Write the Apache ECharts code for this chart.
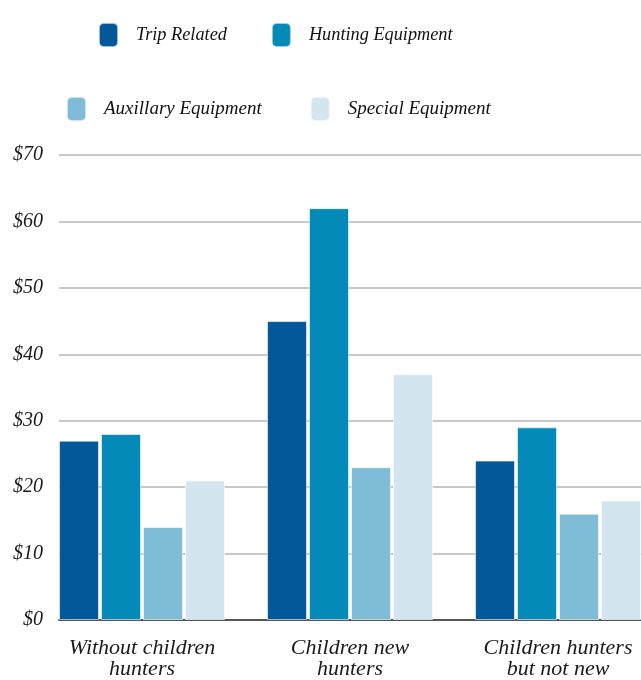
<!DOCTYPE html>
<html>
<head>
<meta charset="utf-8">
<script src="https://cdn.jsdelivr.net/npm/echarts@6/dist/echarts.min.js"></script>
<style>
html, body { margin: 0; padding: 0; background: #fff; }
#chart { width: 641px; height: 680px; }
</style>
</head>
<body>
<div id="chart"></div>
<script>
var categories = ['Without children\nhunters', 'Children new\nhunters', 'Children hunters\nbut not new'];
var tripRelated = [27, 45, 24];
var huntingEquipment = [28, 62, 29];
var auxillaryEquipment = [14, 23, 16];
var specialEquipment = [21, 37, 18];
var seriesNames = ['Trip Related', 'Hunting Equipment', 'Auxillary Equipment', 'Special Equipment'];
var seriesColors = ['#03589a', '#038ab8', '#7fbcd8', '#d3e6f0'];

var font = 'Liberation Serif';
var chart = echarts.init(document.getElementById('chart'));

function makeBar(i, values) {
	return {
		name : seriesNames[i],
		type : 'bar',
		xAxisIndex : 0,
		yAxisIndex : 0,
		barWidth : 40,
		barGap : '5%',
		data : values,
		itemStyle : {
			color : seriesColors[i],
			borderColor : 'rgba(255,255,255,0.6)',
			borderWidth : 1
		}
	};
}

function legendText(size) {
	return {
		fontFamily : font, fontStyle : 'italic', fontSize : size, color : '#111',
		rich : { t : { fontFamily : font, fontStyle : 'italic', fontSize : size, color : '#111', padding : [0, 0, 0, 13] } }
	};
}
function legendLabel(name) { return '{t|' + name + '}'; }

var option = {
	animation : false,
	legend : [ {
		left : 93,
		top : 17,
		itemWidth : 19,
		itemHeight : 24,
		itemGap : 44,
		icon : 'roundRect',
		textStyle : legendText(18.3),
		formatter : legendLabel,
		data : [ seriesNames[0], seriesNames[1] ]
	}, {
		left : 61,
		top : 91,
		itemWidth : 19,
		itemHeight : 24,
		itemGap : 48,
		icon : 'roundRect',
		textStyle : legendText(19),
		formatter : legendLabel,
		data : [ seriesNames[2], seriesNames[3] ]
	} ],
	grid : [ {
		left : 38,
		width : 624,
		top : 155,
		bottom : 60,
		outerBoundsMode : 'none'
	}, {
		left : 59,
		right : 0,
		top : 155,
		bottom : 60,
		outerBoundsMode : 'none'
	} ],
	xAxis : [ {
		type : 'category',
		gridIndex : 0,
		data : categories,
		axisLine : { show : false },
		axisTick : { show : false },
		axisLabel : {
			fontFamily : font,
			fontStyle : 'italic',
			fontSize : 22,
			lineHeight : 21,
			color : '#1a1a1a',
			margin : 18
		}
	}, {
		type : 'value',
		gridIndex : 1,
		axisLine : { show : true, onZero : false, lineStyle : { color : '#555', width : 2 } },
		axisTick : { show : false },
		axisLabel : { show : false },
		splitLine : { show : false }
	} ],
	yAxis : [ {
		type : 'value',
		gridIndex : 0,
		min : 0,
		max : 70,
		interval : 10,
		show : false,
		splitLine : { show : false }
	}, {
		type : 'value',
		gridIndex : 1,
		min : 0,
		max : 70,
		interval : 10,
		axisLine : { show : false },
		axisTick : { show : false },
		axisLabel : {
			fontFamily : font,
			fontStyle : 'italic',
			fontSize : 20,
			color : '#1a1a1a',
			margin : 16,
			formatter : function(v) { return '$' + v; }
		},
		splitLine : { lineStyle : { color : '#c8c8c8', width : 2 } }
	} ],
	series : [
		makeBar(0, tripRelated),
		makeBar(1, huntingEquipment),
		makeBar(2, auxillaryEquipment),
		makeBar(3, specialEquipment)
	]
};
chart.setOption(option);
</script>
</body>
</html>
